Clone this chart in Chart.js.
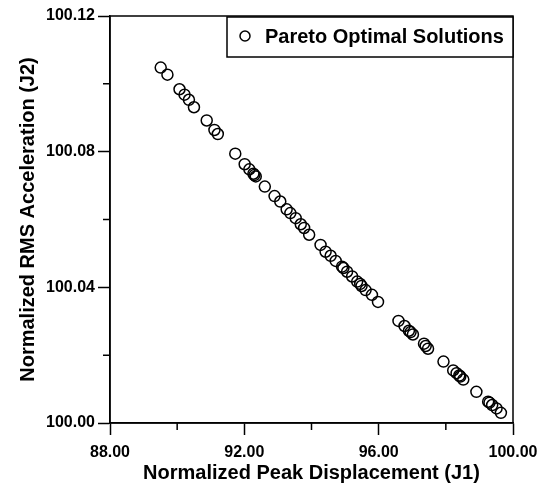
<!DOCTYPE html>
<html lang="en">
<head>
  <meta charset="UTF-8" />
  <title>Pareto Optimal Solutions</title>
  <script src="https://cdn.jsdelivr.net/npm/chart.js@4"></script>
  <style>
    html, body { margin: 0; padding: 0; background: #fff; }
    #wrap { width: 551px; height: 485px; position: relative; }
  </style>
</head>
<body>
  <div id="wrap"><canvas id="pareto"></canvas></div>

  <script>
    // data
    const xTicks = [88, 92, 96, 100];
    const xMinor = [90, 94, 98];
    const yTicks = [100.00, 100.04, 100.08, 100.12];
    const yMinor = [100.02, 100.06, 100.10];

    // J1 = normalized peak displacement, J2 = normalized RMS acceleration
    const j1 = [89.51, 89.71, 90.07, 90.22, 90.35, 90.50, 90.88, 91.11, 91.21, 91.73,
                92.01, 92.15, 92.27, 92.30, 92.34, 92.61, 92.90, 93.07, 93.26, 93.37,
                93.53, 93.68, 93.78, 93.93, 94.27, 94.42, 94.57, 94.72, 94.91, 94.95,
                95.06, 95.21, 95.36, 95.45, 95.49, 95.61, 95.80, 95.98, 96.59, 96.77,
                96.90, 96.95, 97.02, 97.35, 97.40, 97.47, 97.93, 98.22, 98.32, 98.40,
                98.43, 98.52, 98.91, 99.26, 99.30, 99.38, 99.51, 99.64];
    const j2 = [100.1048, 100.1027, 100.0984, 100.0968, 100.0953, 100.0931, 100.0892, 100.0864, 100.0852, 100.0794,
                100.0763, 100.0748, 100.0735, 100.0731, 100.0727, 100.0697, 100.0669, 100.0653, 100.0630, 100.0619,
                100.0604, 100.0586, 100.0575, 100.0555, 100.0525, 100.0505, 100.0493, 100.0478, 100.0461, 100.0457,
                100.0446, 100.0432, 100.0417, 100.0410, 100.0404, 100.0392, 100.0378, 100.0357, 100.0301, 100.0286,
                100.0272, 100.0268, 100.0261, 100.0234, 100.0227, 100.0219, 100.0181, 100.0155, 100.0147, 100.0140,
                100.0137, 100.0128, 100.0092, 100.0063, 100.0060, 100.0053, 100.0043, 100.0030];

    const FONT = '"Liberation Sans", Arial, sans-serif';
    const tickFont  = { family: FONT, size: 16, weight: 'bold' };
    const titleFont = { family: FONT, size: 20, weight: 'bold' };

    // frame, minor ticks and the boxed legend inside the plot
    const decorations = {
      id: 'decorations',
      afterDraw(chart) {
        const { ctx, chartArea: a, scales } = chart;
        ctx.save();
        ctx.strokeStyle = '#000';
        ctx.lineWidth = 1.5;
        ctx.strokeRect(a.left, a.top, a.right - a.left, a.bottom - a.top);

        ctx.beginPath();
        xMinor.forEach(v => {
          const px = scales.x.getPixelForValue(v);
          ctx.moveTo(px, a.bottom);
          ctx.lineTo(px, a.bottom + 7);
        });
        yMinor.forEach(v => {
          const py = scales.y.getPixelForValue(v);
          ctx.moveTo(a.left, py);
          ctx.lineTo(a.left - 7, py);
        });
        ctx.stroke();

        // legend
        const w = 286, h = 40;
        const lx = a.right - w, ly = a.top + 1;
        ctx.fillStyle = '#fff';
        ctx.fillRect(lx, ly, w, h);
        ctx.strokeRect(lx, ly, w, h);
        ctx.beginPath();
        ctx.arc(lx + 18, ly + 19, 5, 0, Math.PI * 2);
        ctx.stroke();
        ctx.fillStyle = '#000';
        ctx.font = 'bold 20px ' + FONT;
        ctx.textBaseline = 'middle';
        ctx.textAlign = 'left';
        ctx.fillText(chart.data.datasets[0].label, lx + 38, ly + 20);
        ctx.restore();
      }
    };

    new Chart(document.getElementById('pareto'), {
      type: 'scatter',
      data: {
        datasets: [{
          label: 'Pareto Optimal Solutions',
          data: j1.map((x, i) => ({ x, y: j2[i] })),
          pointStyle: 'circle',
          pointRadius: 5.5,
          pointHoverRadius: 5.5,
          borderWidth: 1.5,
          borderColor: '#000',
          backgroundColor: 'rgba(0,0,0,0)'
        }]
      },
      options: {
        responsive: true,
        maintainAspectRatio: false,
        animation: false,
        events: [],
        layout: { padding: { top: 16, right: 38, left: 0, bottom: 0 } },
        plugins: { legend: { display: false }, tooltip: { enabled: false } },
        scales: {
          x: {
            type: 'linear',
            min: 88, max: 100,
            afterBuildTicks: s => { s.ticks = xTicks.map(v => ({ value: v })); },
            afterFit: s => { s.height = 62; },
            ticks: { callback: v => v.toFixed(2), font: tickFont, color: '#000', padding: 8, maxRotation: 0, autoSkip: false },
            grid: { drawOnChartArea: false, tickLength: 12, tickWidth: 1.5, tickColor: '#000' },
            border: { color: '#000', width: 1.5 },
            title: { display: true, text: 'Normalized Peak Displacement (J1)', font: titleFont, color: '#000', padding: { top: 0, bottom: 0 } }
          },
          y: {
            type: 'linear',
            min: 100, max: 100.12,
            afterBuildTicks: s => { s.ticks = yTicks.map(v => ({ value: v })); },
            afterFit: s => { s.width = 110; },
            ticks: { callback: v => v.toFixed(2), font: tickFont, color: '#000', padding: 3, autoSkip: false },
            grid: { drawOnChartArea: false, tickLength: 12, tickWidth: 1.5, tickColor: '#000' },
            border: { color: '#000', width: 1.5 },
            title: { display: true, text: 'Normalized RMS Acceleration (J2)', font: titleFont, color: '#000', padding: { top: 16, bottom: 0 } }
          }
        }
      },
      plugins: [decorations]
    });
  </script>
</body>
</html>
